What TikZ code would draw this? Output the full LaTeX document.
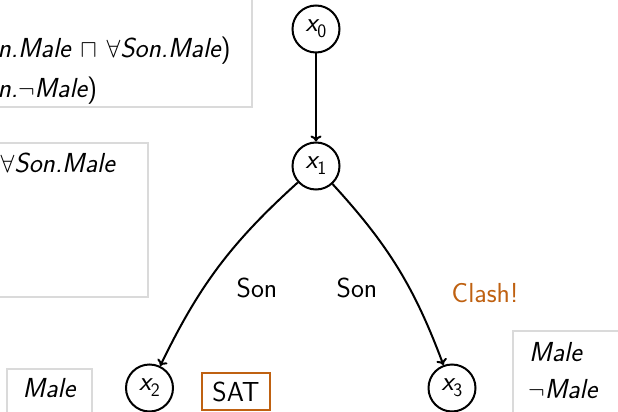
\documentclass[tikz,border=0pt]{standalone}
\usetikzlibrary{arrows.meta}
\definecolor{clashorange}{RGB}{191,97,17}
\definecolor{boxgray}{RGB}{218,218,218}
\newcommand\xvar[1]{{\slshape x}\raisebox{-6pt}{\fontsize{19}{19}\selectfont #1}}
\newcommand\cname[1]{{\slshape #1}}
\begin{document}
\begin{tikzpicture}[x=1pt,y=-1pt,
  every node/.style={font=\fontsize{27.5}{39}\selectfont\sffamily},
  indiv/.style={draw,circle,line width=2pt,minimum size=47pt,inner sep=0pt},
  labelbox/.style={draw=boxgray,line width=2pt},
  edge/.style={line width=2pt,-{To[length=6pt,width=11pt]}},
  satbox/.style={draw=clashorange,line width=2pt,minimum width=68pt,minimum height=37pt,inner sep=0pt}]
  \useasboundingbox (0,0) rectangle (618,412);
  \clip (0,0) rectangle (618,412);

  % label boxes
  \draw[labelbox] (-10,-10) rectangle (252,107);
  \draw[labelbox] (-10,143) rectangle (148,297);
  \draw[labelbox] (7,369) rectangle (92,425);
  \draw[labelbox] (513,331) rectangle (630,425);

  % concept labels
  \node[anchor=base east,inner sep=0pt] (l1) at (231,58) {\cname{n.Male}$\,{}\sqcap{}\,\forall$\cname{Son.Male})};
  \node[anchor=base west,inner sep=0pt] (l2) at (l1.base west) [yshift=-39pt] {\cname{n.}$\neg$\cname{Male})};
  \node[anchor=base east,inner sep=0pt] (l3) at (115,172) {$\forall$\cname{Son.Male}};
  \node[anchor=base,inner sep=0pt] (l4) at (49,397) {\cname{Male}};
  \node[anchor=base west,inner sep=0pt] (l5) at (529,361) {\cname{Male}};
  \node[anchor=base west,inner sep=0pt] (l6) at (528,398) {$\neg$\cname{Male}};

  % tableau individuals
  \node[indiv] (x0) at (316,29) {\xvar{0}};
  \node[indiv] (x1) at (316,166) {\xvar{1}};
  \node[indiv] (x2) at (149.5,388) {\xvar{2}};
  \node[indiv] (x3) at (452,388) {\xvar{3}};

  \draw[edge] (x0) -- (x1);
  \draw[edge] (x1) to[bend right=11] (x2);
  \draw[edge] (x1) to[bend left=11] (x3);

  \node[anchor=base,inner sep=0pt] (s1) at (257,297) {Son};
  \node[anchor=base,inner sep=0pt] (s2) at (357,297) {Son};

  \node[satbox] (sat) at (236,391.5) {SAT};
  \node[anchor=base,inner sep=0pt,text=clashorange] (clash) at (485,302) {Clash!};
\end{tikzpicture}
\end{document}
